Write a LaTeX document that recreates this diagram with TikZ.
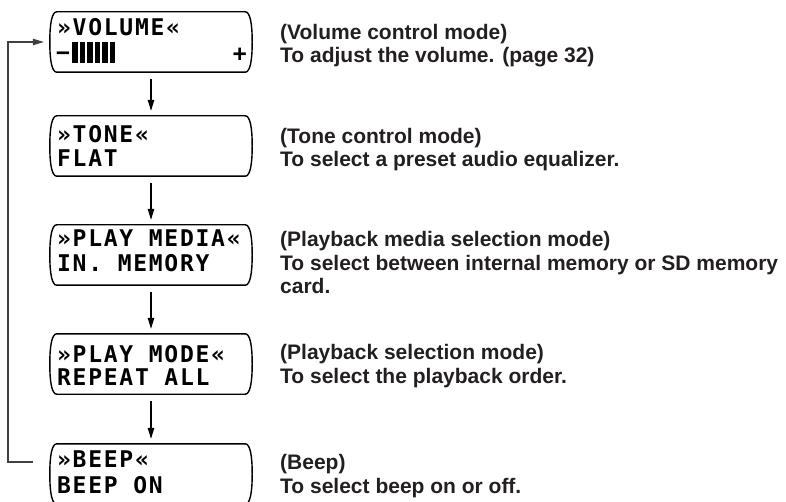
\documentclass[tikz,border=0pt]{standalone}
\usepackage{fontspec}
\setmainfont{Liberation Sans}
\newfontfamily\lcdfont[LetterSpace=7.5]{DejaVu Sans Mono Bold}
\usetikzlibrary{arrows.meta}

\definecolor{ink}{HTML}{231F20}

% bowed display outline round a named node
\newcommand{\lcdframe}[1]{%
  \draw[frame] ([xshift=4pt]#1.north west) -- ([xshift=-4pt]#1.north east)
    .. controls ([xshift=1pt]#1.north east) and ([xshift=3pt,yshift=-12pt]#1.north east) .. ([xshift=3pt]#1.east)
    .. controls ([xshift=3pt,yshift=12pt]#1.south east) and ([xshift=1pt]#1.south east) .. ([xshift=-4pt]#1.south east)
    -- ([xshift=4pt]#1.south west)
    .. controls ([xshift=-1pt]#1.south west) and ([xshift=-3pt,yshift=12pt]#1.south west) .. ([xshift=-3pt]#1.west)
    .. controls ([xshift=-3pt,yshift=-12pt]#1.north west) and ([xshift=-1pt]#1.north west) .. cycle;}

\begin{document}
\begin{tikzpicture}[x=1pt,y=-1pt,
    lcd/.style={minimum width=196pt, minimum height=60pt, inner sep=0pt},
    lcdtxt/.style={font=\lcdfont\fontsize{23}{23}\selectfont, inner sep=0pt, anchor=base west},
    desc/.style={font=\bfseries\fontsize{21}{23.5}\selectfont, text=ink, inner sep=0pt, anchor=base west, align=left},
    flow/.style={-{Triangle[length=11pt,width=6.5pt]}, line width=1.1pt, shorten <=7pt, shorten >=5pt},
    frame/.style={line width=1.4pt, line join=round},
    loopline/.style={line width=1.1pt, draw=black!75}]
    \useasboundingbox (0,0) rectangle (786,502);

    % Displays
    \node[lcd] (vol)   at (151,42)  {};
    \node[lcd] (tone)  at (151,146) {};
    \node[lcd] (media) at (151,255) {};
    \node[lcd] (mode)  at (151,364) {};
    \node[lcd] (beep)  at (151,474) {};
    \foreach \n in {vol,tone,media,mode,beep} {\lcdframe{\n}}

    % Display texts
    \node[lcdtxt] (vol1)   at (57,36)  {»VOLUME«};
    \node[lcdtxt] (volm)   at (56,61)  {−};
    \node[lcdtxt, anchor=base east] (volp) at (247,62) {+};
    \foreach \i in {0,...,5} \fill (72+7.5*\i,42) rectangle (77.5+7.5*\i,63);
    \node[lcdtxt] (tone1)  at (57,143) {»TONE«};
    \node[lcdtxt] (tone2)  at (57,167) {FLAT};
    \node[lcdtxt] (media1) at (57,247) {»PLAY MEDIA«};
    \node[lcdtxt] (media2) at (57,272) {IN. MEMORY};
    \node[lcdtxt] (mode1)  at (57,362) {»PLAY MODE«};
    \node[lcdtxt] (mode2)  at (57,385) {REPEAT ALL};
    \node[lcdtxt] (beep1)  at (57,467) {»BEEP«};
    \node[lcdtxt] (beep2)  at (57,493) {BEEP ON};

    % Descriptions
    \node[desc] (dvol)   at (280,63)  {(Volume control mode)\\To adjust the volume. (page 32)};
    \node[desc] (dtone)  at (280,167) {(Tone control mode)\\To select a preset audio equalizer.};
    \node[desc] (dmedia) at (280,294) {(Playback media selection mode)\\To select between internal memory or SD memory\\card.};
    \node[desc] (dmode)  at (280,383) {(Playback selection mode)\\To select the playback order.};
    \node[desc] (dbeep)  at (280,493) {(Beep)\\To select beep on or off.};

    % Flow
    \draw[flow] (vol.south)   -- (tone.north);
    \draw[flow] (tone.south)  -- (media.north);
    \draw[flow] (media.south) -- (mode.north);
    \draw[flow] (mode.south)  -- (beep.north);

    % Back to the top
    \coordinate (back) at (33,462);
    \draw[loopline, -{Triangle[length=11pt,width=6.5pt]}] (back) -- (8,462) |- ([xshift=-9pt]vol.west);
\end{tikzpicture}
\end{document}
